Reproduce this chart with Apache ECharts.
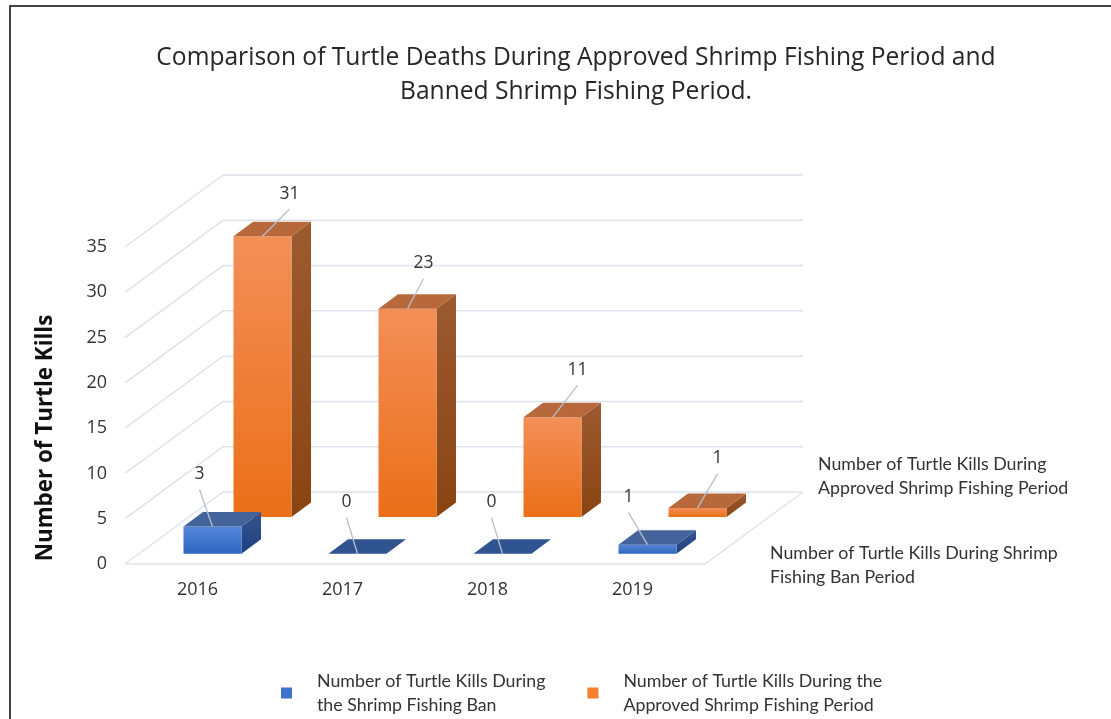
<!DOCTYPE html>
<html>
<head>
<meta charset="utf-8">
<style>html,body{margin:0;padding:0;background:#fff}#c{width:1111px;height:719px}</style>
<script src="https://cdn.jsdelivr.net/npm/echarts@6/dist/echarts.min.js"></script>
</head>
<body>
<div id="c"></div>
<script>
const titleText = 'Comparison of Turtle Deaths During Approved Shrimp Fishing Period and\nBanned Shrimp Fishing Period.';
const yAxisTitle = 'Number of Turtle Kills';
const categories = ['2016', '2017', '2018', '2019'];
const yTicks = [0, 5, 10, 15, 20, 25, 30, 35];
const banName = 'Number of Turtle Kills During\nthe Shrimp Fishing Ban';
const approvedName = 'Number of Turtle Kills During the\nApproved Shrimp Fishing Period';
const banValues = [3, 0, 0, 1];
const approvedValues = [31, 23, 11, 1];
const banDepthLabel = 'Number of Turtle Kills During Shrimp\nFishing Ban Period';
const approvedDepthLabel = 'Number of Turtle Kills During\nApproved Shrimp Fishing Period';

// layout of the 3-D projection, in pixels
const wall = { dx: 98, dy: -72 };
const barHalf = 29, barDepth = { dx: 19.5, dy: -14.5 };
const FONT = '"Open Sans","Noto Sans",sans-serif';
const LEG = 'Lato,"Noto Sans",sans-serif';
const vGrad = (a, b) => new echarts.graphic.LinearGradient(0, 0, 0, 1, [{ offset: 0, color: a }, { offset: 1, color: b }]);

const looks = {
  ban: {
    offset: { x: 15, y: -10.3 },
    front: ['#5585d8', '#2e66c2'], top: '#44639b', flat: '#30548f', side: ['#35548f', '#1f3f80'],
    leaders: [[-13, -37], [-11, -36], [-11, -36], [-19, -32]]
  },
  approved: {
    offset: { x: 65, y: -47 },
    front: ['#f38f58', '#ea6f18'], top: '#b8693b', flat: '#b8693b', side: ['#9c5a30', '#8a4412'],
    leaders: [[27, -27], [16, -30], [25, -32], [20, -34]]
  }
};

function barRenderer(look) {
  return function (params, api) {
    const i = api.value(0), v = api.value(1);
    const base = api.coord([i, 0]), topP = api.coord([i, v]);
    const xl = base[0] + look.offset.x - barHalf, xr = base[0] + look.offset.x + barHalf;
    const yb = base[1] + look.offset.y, yt = topP[1] + look.offset.y;
    const d = barDepth;
    const kids = [];
    if (v > 0) {
      kids.push({ type: 'polygon', shape: { points: [[xr, yt], [xr + d.dx, yt + d.dy], [xr + d.dx, yb + d.dy], [xr, yb]] },
        style: { fill: vGrad(look.side[0], look.side[1]) } });
      kids.push({ type: 'rect', shape: { x: xl, y: yt, width: xr - xl, height: yb - yt },
        style: { fill: vGrad(look.front[0], look.front[1]) } });
    }
    kids.push({ type: 'polygon', shape: { points: [[xl, yt], [xl + d.dx, yt + d.dy], [xr + d.dx, yt + d.dy], [xr, yt]] },
      style: { fill: v > 0 ? look.top : look.flat } });
    const cx = (xl + xr) / 2, lead = look.leaders[params.dataIndex];
    const ex = cx + lead[0], ey = yt + lead[1];
    kids.push({ type: 'line', shape: { x1: cx, y1: yt, x2: ex, y2: ey }, style: { stroke: '#b4c0d0', lineWidth: 1.3 } });
    kids.push({ type: 'text', style: { x: ex, y: ey - 15.5, text: String(v), align: 'center', verticalAlign: 'middle',
      fill: '#333', font: '17.5px ' + FONT } });
    return { type: 'group', children: kids };
  };
}

function gridRenderer(params, api) {
  const cs = params.coordSys;
  const y = api.coord([0, api.value(0)])[1];
  const x0 = cs.x, bx = x0 + wall.dx, by = y + wall.dy, rx = cs.x + cs.width + wall.dx;
  const kids = [{ type: 'polyline', shape: { points: [[x0, y], [bx, by], [rx, by]] },
    style: { fill: null, stroke: '#dde3ec', lineWidth: 1.5 } }];
  if (api.value(0) === 0) {
    kids.push({ type: 'polyline', shape: { points: [[x0, y], [cs.x + cs.width, y], [rx, by]] },
      style: { fill: null, stroke: '#dde3ec', lineWidth: 1.5 } });
  }
  return { type: 'group', children: kids };
}

const chart = echarts.init(document.getElementById('c'), null, { renderer: 'canvas' });
chart.setOption({
  animation: false,
  backgroundColor: '#fff',
  title: {
    text: titleText, left: 571, top: 36, textAlign: 'center',
    textStyle: { fontFamily: FONT, fontWeight: 'normal', fontSize: 24.6, color: '#262626', lineHeight: 34 }
  },
  grid: { left: 125, top: 247, width: 580, height: 317 },
  xAxis: {
    type: 'category', data: categories,
    axisLine: { show: false }, axisTick: { show: false },
    axisLabel: { margin: 17, fontFamily: FONT, fontSize: 18, color: '#333' }
  },
  yAxis: {
    type: 'value', min: 0, max: 35, interval: 5,
    axisLine: { show: false }, axisTick: { show: false }, splitLine: { show: false },
    axisLabel: { margin: 18, fontFamily: FONT, fontSize: 18, color: '#333' }
  },
  legend: {
    data: [banName, approvedName], left: 276, top: 664, itemWidth: 11, itemHeight: 11, itemGap: 42,
    icon: 'rect', selectedMode: false,
    textStyle: { fontFamily: LEG, fontSize: 17.8, lineHeight: 24, color: '#333', padding: [0, 0, 0, 20] }
  },
  graphic: [
    { type: 'polyline', shape: { points: [[10, 719], [10, 6], [1111, 6]] }, style: { fill: null, stroke: '#444', lineWidth: 2 } },
    { type: 'text', x: 46, y: 438, rotation: Math.PI / 2, style: { text: yAxisTitle, align: 'center', verticalAlign: 'middle',
      font: 'bold 22.4px ' + FONT, fill: '#111' } },
    { type: 'text', x: 818, y: 452, style: { text: approvedDepthLabel, lineHeight: 24.5, font: '17.8px ' + LEG, fill: '#333' } },
    { type: 'text', x: 770, y: 541, style: { text: banDepthLabel, lineHeight: 24.5, font: '17.8px ' + LEG, fill: '#333' } }
  ],
  series: [
    { type: 'custom', name: 'grid', z: 1, silent: true, clip: false, encode: { y: 0 },
      data: yTicks.map(v => [v]), renderItem: gridRenderer },
    { type: 'custom', name: approvedName, z: 2, clip: false, itemStyle: { color: '#f57f2c' },
      encode: { x: 0, y: 1 }, data: approvedValues.map((v, i) => [i, v]), renderItem: barRenderer(looks.approved) },
    { type: 'custom', name: banName, z: 3, clip: false, itemStyle: { color: '#3f72cc' },
      encode: { x: 0, y: 1 }, data: banValues.map((v, i) => [i, v]), renderItem: barRenderer(looks.ban) }
  ]
});
</script>
</body>
</html>
